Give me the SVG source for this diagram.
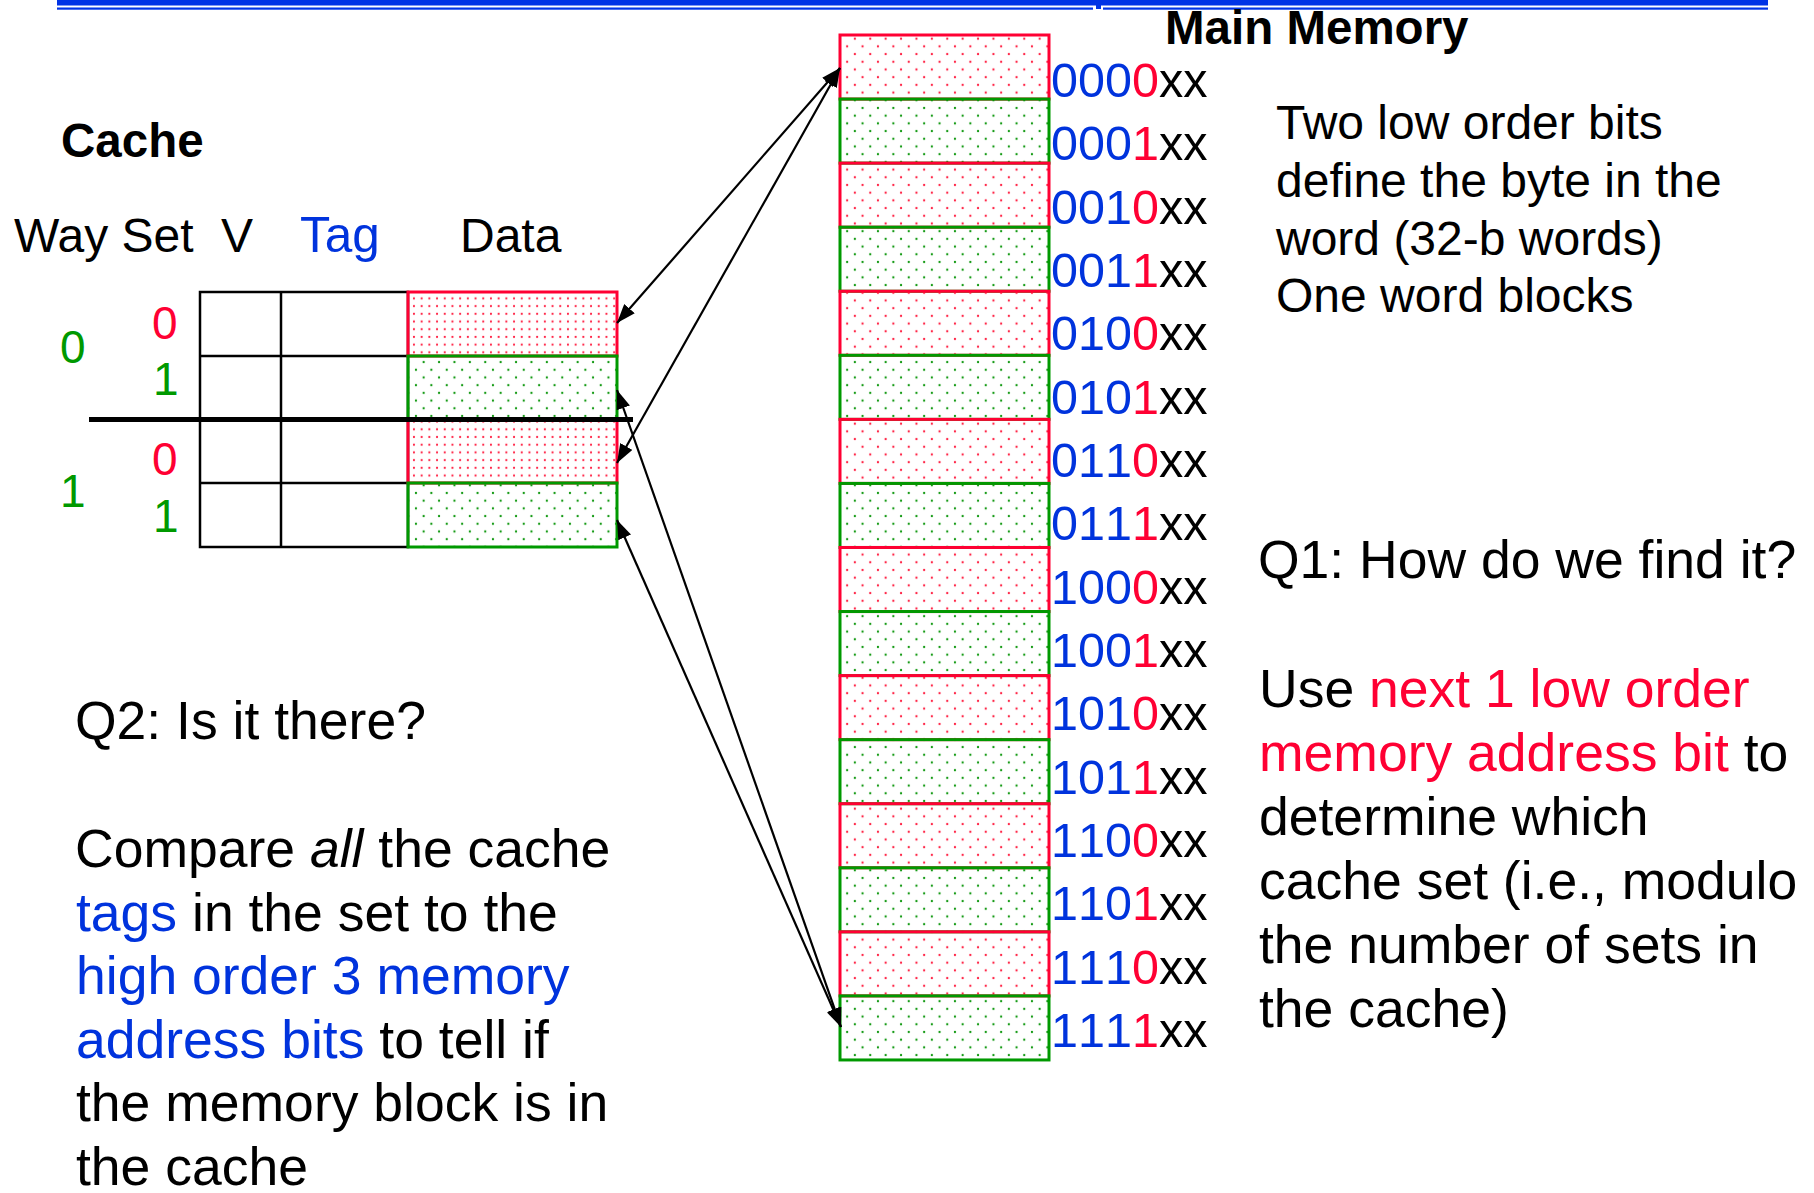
<svg xmlns="http://www.w3.org/2000/svg" width="1814" height="1193" viewBox="0 0 1814 1193">
<style>
text{font-family:"Liberation Sans",Arial,sans-serif;fill:#000}
.b{fill:#0033dd}.r{fill:#ff0033}.g{fill:#009900}
.bold{font-weight:bold}
.grid{fill:none;stroke:#000;stroke-width:2.5}
.redc{stroke:#ff0033;stroke-width:3}
.grnc{stroke:#009900;stroke-width:3}
.conn{stroke:#000;stroke-width:2.2;fill:none;marker-start:url(#ah);marker-end:url(#ah)}
.lbl{font-size:48.5px;font-kerning:none}
</style>
<defs>
<pattern id="pr" width="15.4" height="15.4" patternUnits="userSpaceOnUse" x="4" y="4">
<circle cx="3.85" cy="3.85" r="1.15" fill="#ff2244"/><circle cx="11.55" cy="11.55" r="1.15" fill="#ff2244"/>
</pattern>
<pattern id="pg" width="15.4" height="15.4" patternUnits="userSpaceOnUse" x="4" y="4">
<circle cx="3.85" cy="3.85" r="1.15" fill="#119911"/><circle cx="11.55" cy="11.55" r="1.15" fill="#119911"/>
</pattern>
<pattern id="prd" width="7.7" height="7.7" patternUnits="userSpaceOnUse" x="2" y="2">
<circle cx="3.85" cy="3.85" r="1.1" fill="#ff2244"/>
</pattern>
<marker id="ah" markerUnits="userSpaceOnUse" markerWidth="20" markerHeight="14" refX="19" refY="7" orient="auto-start-reverse">
<path d="M0,0 L19,7 L0,14 z" fill="#000"/>
</marker>
</defs>
<rect width="1814" height="1193" fill="#fff"/>
<g id="topbar" fill="#0033e6">
<rect x="57" y="0" width="1711" height="5.5"/>
<rect x="57" y="7.5" width="1036" height="2.2"/>
<rect x="1103" y="7.5" width="665" height="2.2"/>
<rect x="1096" y="4" width="5" height="5"/>
</g>
<g id="cache">
<text class="bold" x="61" y="157" font-size="47.5">Cache</text>
<g id="cache-header" font-size="48">
<text x="14" y="252">Way Set</text>
<text x="221" y="252">V</text>
<text class="b" x="300" y="252" font-size="49.5">Tag</text>
<text x="460" y="252">Data</text>
</g>
<g id="cache-labels" font-size="46">
<text class="g" x="60" y="363">0</text>
<text class="g" x="60" y="507">1</text>
<text class="r" x="152" y="339">0</text>
<text class="g" x="153" y="395">1</text>
<text class="r" x="152" y="475">0</text>
<text class="g" x="153" y="532">1</text>
</g>
<g id="cache-grid">
<rect class="grid" x="200" y="292" width="208" height="255"/>
<line class="grid" x1="281" y1="292" x2="281" y2="547"/>
<line class="grid" x1="200" y1="356" x2="408" y2="356"/>
<line class="grid" x1="200" y1="483" x2="408" y2="483"/>
</g>
<g id="cache-s0w0"><rect class="redc" x="408" y="292" width="209" height="64" fill="url(#prd)"/></g>
<g id="cache-s0w1"><rect class="grnc" x="408" y="356" width="209" height="64" fill="url(#pg)"/></g>
<g id="cache-s1w0"><rect class="redc" x="408" y="420" width="209" height="63" fill="url(#prd)"/></g>
<g id="cache-s1w1"><rect class="grnc" x="408" y="483" width="209" height="64" fill="url(#pg)"/></g>
<line x1="89" y1="419.5" x2="633" y2="419.5" stroke="#000" stroke-width="5"/>
</g>
<g id="main-memory">
<text class="bold" x="1165" y="44" font-size="47.5">Main Memory</text>
<g id="m0"><rect class="redc" x="840" y="35" width="209" height="64.06" fill="url(#pr)"/><text class="lbl" x="1051" y="97"><tspan class="b">000</tspan><tspan class="r">0</tspan>xx</text></g>
<g id="m1"><rect class="grnc" x="840" y="99.06" width="209" height="64.06" fill="url(#pg)"/><text class="lbl" x="1051" y="160.33"><tspan class="b">000</tspan><tspan class="r">1</tspan>xx</text></g>
<g id="m2"><rect class="redc" x="840" y="163.12" width="209" height="64.06" fill="url(#pr)"/><text class="lbl" x="1051" y="223.67"><tspan class="b">001</tspan><tspan class="r">0</tspan>xx</text></g>
<g id="m3"><rect class="grnc" x="840" y="227.18" width="209" height="64.06" fill="url(#pg)"/><text class="lbl" x="1051" y="287"><tspan class="b">001</tspan><tspan class="r">1</tspan>xx</text></g>
<g id="m4"><rect class="redc" x="840" y="291.24" width="209" height="64.06" fill="url(#pr)"/><text class="lbl" x="1051" y="350.33"><tspan class="b">010</tspan><tspan class="r">0</tspan>xx</text></g>
<g id="m5"><rect class="grnc" x="840" y="355.3" width="209" height="64.06" fill="url(#pg)"/><text class="lbl" x="1051" y="413.67"><tspan class="b">010</tspan><tspan class="r">1</tspan>xx</text></g>
<g id="m6"><rect class="redc" x="840" y="419.36" width="209" height="64.06" fill="url(#pr)"/><text class="lbl" x="1051" y="477"><tspan class="b">011</tspan><tspan class="r">0</tspan>xx</text></g>
<g id="m7"><rect class="grnc" x="840" y="483.42" width="209" height="64.06" fill="url(#pg)"/><text class="lbl" x="1051" y="540.33"><tspan class="b">011</tspan><tspan class="r">1</tspan>xx</text></g>
<g id="m8"><rect class="redc" x="840" y="547.48" width="209" height="64.06" fill="url(#pr)"/><text class="lbl" x="1051" y="603.67"><tspan class="b">100</tspan><tspan class="r">0</tspan>xx</text></g>
<g id="m9"><rect class="grnc" x="840" y="611.54" width="209" height="64.06" fill="url(#pg)"/><text class="lbl" x="1051" y="667"><tspan class="b">100</tspan><tspan class="r">1</tspan>xx</text></g>
<g id="m10"><rect class="redc" x="840" y="675.6" width="209" height="64.06" fill="url(#pr)"/><text class="lbl" x="1051" y="730.33"><tspan class="b">101</tspan><tspan class="r">0</tspan>xx</text></g>
<g id="m11"><rect class="grnc" x="840" y="739.66" width="209" height="64.06" fill="url(#pg)"/><text class="lbl" x="1051" y="793.67"><tspan class="b">101</tspan><tspan class="r">1</tspan>xx</text></g>
<g id="m12"><rect class="redc" x="840" y="803.72" width="209" height="64.06" fill="url(#pr)"/><text class="lbl" x="1051" y="857"><tspan class="b">110</tspan><tspan class="r">0</tspan>xx</text></g>
<g id="m13"><rect class="grnc" x="840" y="867.78" width="209" height="64.06" fill="url(#pg)"/><text class="lbl" x="1051" y="920.33"><tspan class="b">110</tspan><tspan class="r">1</tspan>xx</text></g>
<g id="m14"><rect class="redc" x="840" y="931.84" width="209" height="64.06" fill="url(#pr)"/><text class="lbl" x="1051" y="983.67"><tspan class="b">111</tspan><tspan class="r">0</tspan>xx</text></g>
<g id="m15"><rect class="grnc" x="840" y="995.9" width="209" height="64.06" fill="url(#pg)"/><text class="lbl" x="1051" y="1047"><tspan class="b">111</tspan><tspan class="r">1</tspan>xx</text></g>
</g>
<g id="connectors">
<line class="conn" x1="617" y1="323" x2="840" y2="68"/>
<line class="conn" x1="617" y1="463" x2="840" y2="68"/>
<line class="conn" x1="617" y1="390" x2="841" y2="1027"/>
<line class="conn" x1="617" y1="520" x2="841" y2="1027"/>
</g>
<g id="note-bits" font-size="48">
<text x="1276" y="139">Two low order bits</text>
<text x="1276" y="197">define the byte in the</text>
<text x="1276" y="255">word (32-b words)</text>
<text x="1276" y="312">One word blocks</text>
</g>
<g id="note-q1" font-size="53.5">
<text x="1258" y="578">Q1: How do we find it?</text>
<text x="1259" y="707">Use <tspan class="r">next 1 low order</tspan></text>
<text x="1259" y="771"><tspan class="r">memory address bit</tspan> to</text>
<text x="1259" y="835">determine which</text>
<text x="1259" y="899">cache set (i.e., modulo</text>
<text x="1259" y="963">the number of sets in</text>
<text x="1259" y="1027">the cache)</text>
</g>
<g id="note-q2" font-size="53.5">
<text x="75" y="739">Q2: Is it there?</text>
<text x="75" y="867">Compare <tspan font-style="italic">all</tspan> the cache</text>
<text x="76" y="930.5"><tspan class="b">tags</tspan> in the set to the</text>
<text x="76" y="994" class="b">high order 3 memory</text>
<text x="76" y="1057.5"><tspan class="b">address bits</tspan> to tell if</text>
<text x="76" y="1121">the memory block is in</text>
<text x="76" y="1184.5">the cache</text>
</g>
</svg>
